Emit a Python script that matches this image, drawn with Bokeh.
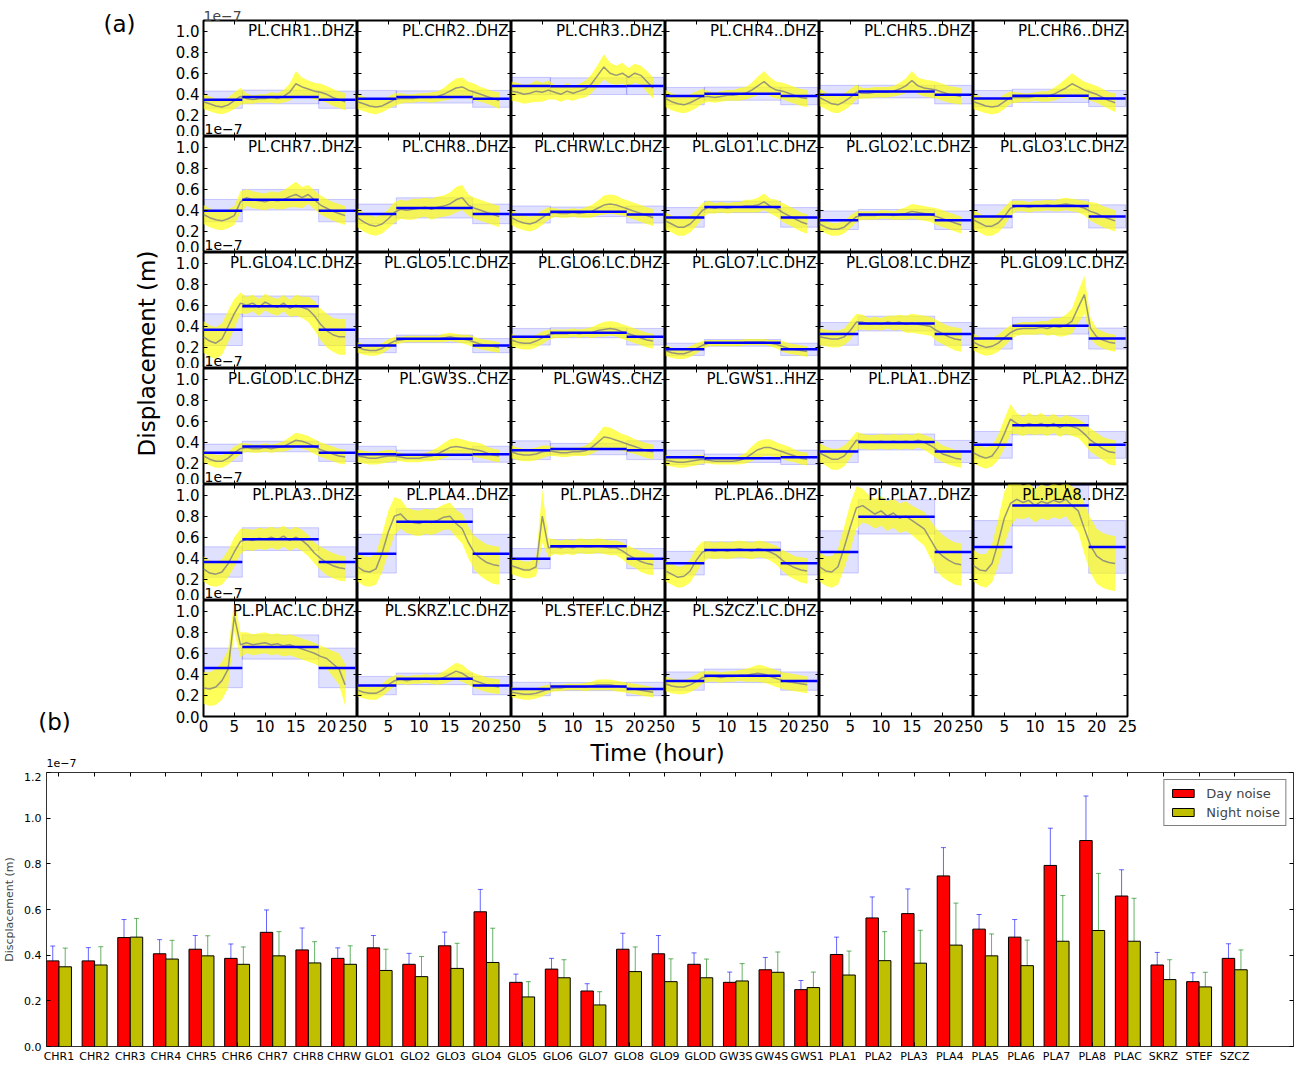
import math
from bokeh.plotting import figure
from bokeh.layouts import column, row
from bokeh.models import (Range1d, FixedTicker, LinearAxis, Label, Whisker, ColumnDataSource,
                          Legend, LegendItem, TeeHead, PrintfTickFormatter)
from bokeh.embed import file_html
from bokeh.resources import INLINE

FONT = "DejaVu Sans"

# ---------------- data ----------------
channels = ["PL.CHR1..DHZ", "PL.CHR2..DHZ", "PL.CHR3..DHZ", "PL.CHR4..DHZ", "PL.CHR5..DHZ", "PL.CHR6..DHZ",
            "PL.CHR7..DHZ", "PL.CHR8..DHZ", "PL.CHRW.LC.DHZ", "PL.GLO1.LC.DHZ", "PL.GLO2.LC.DHZ", "PL.GLO3.LC.DHZ",
            "PL.GLO4.LC.DHZ", "PL.GLO5.LC.DHZ", "PL.GLO6.LC.DHZ", "PL.GLO7.LC.DHZ", "PL.GLO8.LC.DHZ", "PL.GLO9.LC.DHZ",
            "PL.GLOD.LC.DHZ", "PL.GW3S..CHZ", "PL.GW4S..CHZ", "PL.GWS1..HHZ", "PL.PLA1..DHZ", "PL.PLA2..DHZ",
            "PL.PLA3..DHZ", "PL.PLA4..DHZ", "PL.PLA5..DHZ", "PL.PLA6..DHZ", "PL.PLA7..DHZ", "PL.PLA8..DHZ",
            "PL.PLAC.LC.DHZ", "PL.SKRZ.LC.DHZ", "PL.STEF.LC.DHZ", "PL.SZCZ.LC.DHZ"]
stations = ["CHR1", "CHR2", "CHR3", "CHR4", "CHR5", "CHR6", "CHR7", "CHR8", "CHRW", "GLO1", "GLO2", "GLO3",
            "GLO4", "GLO5", "GLO6", "GLO7", "GLO8", "GLO9", "GLOD", "GW3S", "GW4S", "GWS1", "PLA1", "PLA2",
            "PLA3", "PLA4", "PLA5", "PLA6", "PLA7", "PLA8", "PLAC", "SKRZ", "STEF", "SZCZ"]

# values in units of 1e-7 m
day_noise = [0.375, 0.375, 0.477, 0.406, 0.426, 0.386, 0.500, 0.423, 0.386, 0.432, 0.360, 0.441,
             0.590, 0.281, 0.339, 0.243, 0.426, 0.406, 0.360, 0.281, 0.336, 0.249, 0.403, 0.563,
             0.582, 0.747, 0.514, 0.479, 0.793, 0.902, 0.659, 0.357, 0.284, 0.386]
day_err = [0.065, 0.058, 0.079, 0.062, 0.060, 0.063, 0.098, 0.096, 0.046, 0.054, 0.048, 0.060,
           0.098, 0.036, 0.047, 0.032, 0.070, 0.080, 0.050, 0.045, 0.054, 0.040, 0.076, 0.092,
           0.108, 0.124, 0.064, 0.077, 0.163, 0.195, 0.115, 0.055, 0.039, 0.064]
night_noise = [0.349, 0.357, 0.479, 0.383, 0.397, 0.360, 0.397, 0.366, 0.360, 0.333, 0.306, 0.342,
               0.368, 0.217, 0.301, 0.182, 0.328, 0.284, 0.301, 0.287, 0.325, 0.258, 0.313, 0.376,
               0.365, 0.444, 0.397, 0.354, 0.461, 0.508, 0.461, 0.293, 0.261, 0.336]
night_err = [0.082, 0.080, 0.082, 0.082, 0.088, 0.076, 0.106, 0.093, 0.081, 0.093, 0.088, 0.110,
             0.150, 0.067, 0.079, 0.058, 0.108, 0.100, 0.082, 0.076, 0.089, 0.068, 0.105, 0.127,
             0.144, 0.184, 0.096, 0.112, 0.200, 0.250, 0.188, 0.087, 0.064, 0.087]

hours = [0, 1, 2, 3, 4, 5, 6, 7, 8, 9, 10, 11, 12, 13, 14, 15, 16, 17, 18, 19, 20, 21, 22, 23]
period_start = [0.0, 6.3, 18.7]
period_end = [6.3, 18.7, 24.7]

mean_CHR1 = [0.33,0.31,0.29,0.28,0.30,0.34,0.38,0.36,0.35,0.36,0.36,0.37,0.36,0.38,0.42,0.50,0.47,0.45,0.43,0.42,0.40,0.37,0.35,0.33]
spread_CHR1 = [0.07,0.07,0.07,0.07,0.07,0.08,0.08,0.05,0.04,0.04,0.04,0.05,0.05,0.06,0.08,0.12,0.09,0.08,0.08,0.08,0.08,0.08,0.08,0.08]
mean_CHR2 = [0.33,0.31,0.29,0.28,0.29,0.32,0.35,0.36,0.36,0.36,0.37,0.37,0.37,0.38,0.40,0.43,0.46,0.47,0.44,0.42,0.40,0.38,0.36,0.34]
spread_CHR2 = [0.07,0.07,0.07,0.07,0.06,0.06,0.06,0.05,0.04,0.04,0.04,0.04,0.05,0.05,0.06,0.08,0.09,0.09,0.08,0.08,0.07,0.07,0.07,0.08]
mean_CHR3 = [0.43,0.42,0.40,0.41,0.43,0.42,0.44,0.42,0.40,0.43,0.41,0.43,0.45,0.50,0.58,0.66,0.60,0.58,0.60,0.56,0.60,0.58,0.52,0.46]
spread_CHR3 = [0.09,0.09,0.09,0.09,0.10,0.09,0.09,0.07,0.07,0.08,0.07,0.07,0.08,0.09,0.10,0.12,0.10,0.09,0.10,0.09,0.09,0.09,0.10,0.10]
mean_CHR4 = [0.36,0.33,0.31,0.30,0.32,0.35,0.38,0.38,0.37,0.38,0.39,0.39,0.40,0.41,0.44,0.48,0.52,0.47,0.44,0.43,0.41,0.39,0.37,0.36]
spread_CHR4 = [0.08,0.08,0.08,0.08,0.08,0.08,0.07,0.05,0.05,0.05,0.05,0.05,0.06,0.06,0.07,0.09,0.10,0.09,0.08,0.08,0.08,0.08,0.08,0.08]
mean_CHR5 = [0.37,0.34,0.31,0.30,0.33,0.37,0.42,0.41,0.41,0.42,0.42,0.42,0.43,0.45,0.48,0.53,0.48,0.46,0.45,0.44,0.42,0.40,0.39,0.38]
spread_CHR5 = [0.08,0.08,0.08,0.08,0.08,0.08,0.07,0.05,0.05,0.05,0.05,0.05,0.05,0.06,0.07,0.09,0.08,0.08,0.08,0.08,0.08,0.08,0.08,0.08]
mean_CHR6 = [0.33,0.31,0.29,0.28,0.29,0.33,0.37,0.37,0.37,0.37,0.38,0.38,0.38,0.40,0.43,0.46,0.50,0.47,0.44,0.42,0.40,0.37,0.34,0.32]
spread_CHR6 = [0.07,0.07,0.07,0.07,0.07,0.07,0.06,0.05,0.04,0.04,0.04,0.05,0.05,0.06,0.07,0.09,0.10,0.09,0.08,0.08,0.08,0.08,0.08,0.09]
mean_CHR7 = [0.36,0.33,0.31,0.30,0.32,0.35,0.48,0.52,0.50,0.49,0.48,0.50,0.49,0.50,0.53,0.55,0.52,0.55,0.50,0.45,0.42,0.39,0.37,0.35]
spread_CHR7 = [0.09,0.09,0.09,0.09,0.09,0.09,0.10,0.08,0.08,0.08,0.08,0.08,0.08,0.09,0.10,0.12,0.10,0.09,0.09,0.09,0.09,0.09,0.09,0.09]
mean_CHR8 = [0.33,0.29,0.26,0.25,0.27,0.32,0.38,0.41,0.40,0.41,0.42,0.43,0.41,0.43,0.44,0.46,0.50,0.52,0.45,0.42,0.40,0.38,0.36,0.34]
spread_CHR8 = [0.09,0.09,0.09,0.09,0.09,0.09,0.10,0.09,0.09,0.10,0.09,0.09,0.10,0.10,0.10,0.11,0.12,0.12,0.10,0.10,0.10,0.10,0.10,0.10]
mean_CHRW = [0.33,0.30,0.28,0.27,0.29,0.33,0.37,0.38,0.37,0.37,0.38,0.37,0.38,0.39,0.42,0.45,0.46,0.45,0.43,0.41,0.39,0.37,0.35,0.33]
spread_CHRW = [0.07,0.07,0.07,0.07,0.07,0.07,0.06,0.04,0.04,0.04,0.04,0.04,0.05,0.06,0.07,0.09,0.09,0.09,0.08,0.08,0.08,0.08,0.08,0.08]
mean_GLO1 = [0.30,0.27,0.24,0.24,0.27,0.33,0.40,0.43,0.42,0.43,0.42,0.43,0.43,0.44,0.44,0.45,0.48,0.44,0.42,0.38,0.35,0.32,0.29,0.27]
spread_GLO1 = [0.08,0.08,0.08,0.08,0.08,0.08,0.07,0.06,0.05,0.05,0.05,0.05,0.05,0.06,0.06,0.07,0.08,0.07,0.08,0.09,0.09,0.09,0.09,0.09]
mean_GLO2 = [0.27,0.24,0.22,0.22,0.24,0.29,0.34,0.35,0.35,0.35,0.36,0.36,0.35,0.36,0.37,0.39,0.38,0.37,0.36,0.34,0.32,0.30,0.28,0.26]
spread_GLO2 = [0.06,0.06,0.06,0.06,0.06,0.06,0.05,0.04,0.04,0.04,0.04,0.04,0.04,0.05,0.06,0.07,0.07,0.07,0.07,0.08,0.08,0.08,0.08,0.08]
mean_GLO3 = [0.31,0.28,0.25,0.25,0.28,0.34,0.42,0.44,0.44,0.43,0.44,0.44,0.45,0.44,0.45,0.46,0.45,0.44,0.42,0.39,0.37,0.34,0.32,0.30]
spread_GLO3 = [0.09,0.09,0.09,0.09,0.09,0.09,0.07,0.05,0.05,0.05,0.05,0.05,0.05,0.05,0.06,0.06,0.06,0.06,0.07,0.09,0.10,0.10,0.10,0.10]
mean_GLO4 = [0.30,0.26,0.24,0.28,0.40,0.52,0.62,0.60,0.62,0.58,0.63,0.60,0.58,0.62,0.57,0.60,0.58,0.56,0.50,0.42,0.36,0.32,0.30,0.30]
spread_GLO4 = [0.15,0.15,0.15,0.15,0.15,0.14,0.10,0.08,0.08,0.08,0.08,0.08,0.08,0.08,0.08,0.10,0.10,0.12,0.14,0.15,0.16,0.16,0.17,0.17]
mean_GLO5 = [0.20,0.18,0.17,0.17,0.19,0.23,0.26,0.27,0.28,0.28,0.28,0.28,0.28,0.28,0.29,0.30,0.29,0.28,0.27,0.25,0.23,0.22,0.21,0.20]
spread_GLO5 = [0.05,0.05,0.05,0.05,0.05,0.05,0.04,0.03,0.03,0.03,0.03,0.03,0.03,0.03,0.04,0.04,0.04,0.04,0.05,0.05,0.05,0.05,0.05,0.05]
mean_GLO6 = [0.27,0.25,0.24,0.24,0.26,0.29,0.32,0.33,0.33,0.33,0.34,0.33,0.34,0.34,0.36,0.37,0.38,0.37,0.35,0.33,0.31,0.29,0.27,0.26]
spread_GLO6 = [0.06,0.06,0.06,0.06,0.06,0.06,0.05,0.04,0.04,0.04,0.04,0.04,0.04,0.05,0.06,0.07,0.07,0.07,0.07,0.07,0.07,0.07,0.07,0.07]
mean_GLO7 = [0.17,0.15,0.14,0.14,0.16,0.19,0.22,0.24,0.24,0.24,0.24,0.24,0.24,0.25,0.25,0.25,0.25,0.24,0.23,0.21,0.19,0.18,0.17,0.16]
spread_GLO7 = [0.05,0.05,0.05,0.05,0.05,0.05,0.04,0.03,0.03,0.03,0.03,0.03,0.03,0.03,0.03,0.03,0.03,0.03,0.04,0.05,0.05,0.05,0.05,0.05]
mean_GLO8 = [0.30,0.29,0.28,0.28,0.30,0.36,0.44,0.44,0.42,0.43,0.42,0.44,0.43,0.44,0.42,0.43,0.42,0.41,0.40,0.36,0.33,0.30,0.28,0.27]
spread_GLO8 = [0.08,0.08,0.08,0.08,0.08,0.09,0.08,0.07,0.06,0.06,0.06,0.06,0.07,0.07,0.08,0.09,0.09,0.09,0.09,0.10,0.10,0.10,0.11,0.11]
mean_GLO9 = [0.25,0.22,0.20,0.21,0.24,0.29,0.34,0.37,0.38,0.38,0.38,0.39,0.38,0.40,0.39,0.41,0.45,0.58,0.70,0.38,0.30,0.27,0.25,0.24]
spread_GLO9 = [0.08,0.08,0.08,0.08,0.08,0.08,0.07,0.06,0.06,0.06,0.06,0.06,0.07,0.08,0.09,0.10,0.12,0.15,0.18,0.10,0.08,0.08,0.08,0.08]
mean_GLOD = [0.27,0.24,0.22,0.22,0.25,0.30,0.34,0.35,0.34,0.34,0.35,0.34,0.35,0.36,0.39,0.42,0.41,0.39,0.36,0.33,0.31,0.29,0.27,0.26]
spread_GLOD = [0.06,0.06,0.06,0.06,0.06,0.06,0.05,0.04,0.04,0.04,0.04,0.04,0.04,0.05,0.06,0.07,0.07,0.07,0.07,0.07,0.07,0.07,0.07,0.07]
mean_GW3S = [0.27,0.26,0.25,0.25,0.26,0.27,0.27,0.26,0.25,0.25,0.25,0.26,0.27,0.29,0.32,0.35,0.36,0.35,0.34,0.33,0.32,0.30,0.28,0.27]
spread_GW3S = [0.06,0.06,0.06,0.06,0.06,0.06,0.05,0.04,0.04,0.04,0.04,0.04,0.05,0.06,0.07,0.08,0.08,0.08,0.07,0.07,0.07,0.06,0.06,0.06]
mean_GW4S = [0.31,0.29,0.28,0.28,0.29,0.31,0.32,0.31,0.30,0.30,0.31,0.31,0.32,0.35,0.40,0.45,0.44,0.42,0.40,0.38,0.36,0.34,0.32,0.31]
spread_GW4S = [0.06,0.06,0.06,0.06,0.06,0.06,0.05,0.04,0.04,0.04,0.04,0.04,0.05,0.06,0.08,0.10,0.10,0.09,0.08,0.08,0.07,0.07,0.07,0.07]
mean_GWS1 = [0.23,0.22,0.21,0.21,0.22,0.23,0.24,0.23,0.22,0.22,0.22,0.22,0.23,0.25,0.29,0.33,0.35,0.35,0.33,0.31,0.29,0.27,0.25,0.24]
spread_GWS1 = [0.05,0.05,0.05,0.05,0.05,0.05,0.04,0.03,0.03,0.03,0.03,0.03,0.04,0.05,0.07,0.08,0.08,0.08,0.07,0.07,0.07,0.06,0.06,0.06]
mean_PLA1 = [0.30,0.27,0.24,0.24,0.27,0.34,0.42,0.41,0.40,0.40,0.41,0.40,0.41,0.40,0.41,0.40,0.42,0.40,0.37,0.33,0.29,0.27,0.25,0.24]
spread_PLA1 = [0.09,0.09,0.10,0.10,0.10,0.09,0.08,0.07,0.07,0.07,0.07,0.07,0.07,0.07,0.07,0.07,0.07,0.07,0.08,0.08,0.08,0.08,0.08,0.08]
mean_PLA2 = [0.30,0.27,0.25,0.27,0.35,0.48,0.62,0.58,0.55,0.58,0.56,0.58,0.55,0.58,0.54,0.57,0.55,0.53,0.48,0.42,0.38,0.34,0.31,0.30]
spread_PLA2 = [0.10,0.10,0.10,0.10,0.12,0.14,0.14,0.10,0.09,0.10,0.09,0.10,0.09,0.09,0.09,0.09,0.09,0.09,0.10,0.11,0.11,0.11,0.12,0.12]
mean_PLA3 = [0.30,0.26,0.25,0.27,0.35,0.46,0.56,0.58,0.57,0.59,0.58,0.60,0.58,0.61,0.57,0.60,0.57,0.52,0.45,0.40,0.36,0.33,0.31,0.30]
spread_PLA3 = [0.12,0.12,0.12,0.12,0.13,0.14,0.12,0.10,0.10,0.10,0.10,0.10,0.10,0.10,0.10,0.10,0.10,0.10,0.10,0.11,0.12,0.12,0.12,0.12]
mean_PLA4 = [0.32,0.28,0.27,0.30,0.45,0.65,0.80,0.82,0.76,0.74,0.73,0.75,0.74,0.76,0.79,0.80,0.73,0.68,0.55,0.45,0.40,0.36,0.34,0.33]
spread_PLA4 = [0.14,0.14,0.14,0.15,0.18,0.20,0.18,0.14,0.12,0.12,0.12,0.12,0.12,0.12,0.12,0.13,0.13,0.14,0.15,0.16,0.17,0.17,0.18,0.18]
mean_PLA5 = [0.33,0.31,0.29,0.29,0.32,0.80,0.50,0.51,0.50,0.51,0.50,0.52,0.51,0.51,0.52,0.51,0.50,0.50,0.47,0.43,0.40,0.37,0.35,0.34]
spread_PLA5 = [0.08,0.08,0.08,0.08,0.09,0.25,0.09,0.07,0.07,0.07,0.07,0.07,0.07,0.07,0.07,0.07,0.07,0.07,0.08,0.09,0.09,0.10,0.10,0.10]
mean_PLA6 = [0.28,0.25,0.22,0.23,0.28,0.38,0.46,0.48,0.47,0.48,0.47,0.48,0.49,0.48,0.47,0.49,0.48,0.46,0.43,0.38,0.34,0.31,0.29,0.28]
spread_PLA6 = [0.10,0.10,0.10,0.10,0.11,0.12,0.10,0.08,0.08,0.08,0.08,0.08,0.08,0.08,0.08,0.08,0.08,0.08,0.09,0.10,0.11,0.11,0.12,0.12]
mean_PLA7 = [0.32,0.28,0.27,0.32,0.50,0.70,0.88,0.90,0.86,0.82,0.85,0.80,0.83,0.78,0.80,0.76,0.72,0.68,0.58,0.48,0.42,0.38,0.35,0.34]
spread_PLA7 = [0.14,0.14,0.15,0.17,0.20,0.22,0.20,0.16,0.14,0.14,0.14,0.14,0.14,0.14,0.14,0.14,0.15,0.16,0.18,0.20,0.20,0.20,0.20,0.20]
mean_PLA8 = [0.33,0.29,0.28,0.35,0.55,0.78,0.92,0.96,0.93,0.95,0.90,0.94,0.92,0.95,0.93,0.96,0.90,0.85,0.68,0.52,0.42,0.38,0.36,0.35]
spread_PLA8 = [0.15,0.15,0.16,0.18,0.22,0.25,0.22,0.18,0.16,0.16,0.16,0.16,0.16,0.16,0.16,0.16,0.18,0.20,0.24,0.26,0.26,0.26,0.26,0.26]
mean_PLAC = [0.27,0.26,0.28,0.34,0.45,0.95,0.68,0.70,0.68,0.69,0.70,0.68,0.69,0.67,0.68,0.66,0.64,0.62,0.60,0.57,0.55,0.50,0.45,0.30]
spread_PLAC = [0.15,0.16,0.17,0.18,0.18,0.15,0.12,0.10,0.10,0.10,0.10,0.10,0.10,0.10,0.10,0.10,0.10,0.10,0.10,0.10,0.10,0.12,0.15,0.20]
mean_SKRZ = [0.25,0.23,0.22,0.22,0.25,0.30,0.34,0.35,0.34,0.35,0.35,0.36,0.35,0.35,0.37,0.40,0.43,0.41,0.37,0.34,0.32,0.30,0.29,0.28]
spread_SKRZ = [0.06,0.06,0.06,0.06,0.06,0.06,0.05,0.04,0.04,0.04,0.04,0.04,0.04,0.05,0.06,0.07,0.08,0.08,0.07,0.07,0.07,0.07,0.07,0.07]
mean_STEF = [0.23,0.22,0.21,0.21,0.22,0.24,0.26,0.27,0.27,0.28,0.28,0.28,0.28,0.29,0.30,0.30,0.30,0.29,0.28,0.27,0.26,0.25,0.24,0.23]
spread_STEF = [0.05,0.05,0.05,0.05,0.05,0.05,0.04,0.03,0.03,0.03,0.03,0.03,0.04,0.04,0.05,0.05,0.05,0.05,0.05,0.05,0.05,0.05,0.05,0.05]
mean_SZCZ = [0.31,0.29,0.28,0.28,0.30,0.33,0.37,0.38,0.38,0.37,0.38,0.38,0.39,0.39,0.40,0.41,0.40,0.38,0.36,0.34,0.33,0.32,0.31,0.30]
spread_SZCZ = [0.07,0.07,0.07,0.07,0.07,0.07,0.06,0.05,0.05,0.05,0.05,0.05,0.05,0.06,0.07,0.08,0.08,0.08,0.08,0.08,0.08,0.08,0.08,0.08]

hourly_mean = [mean_CHR1, mean_CHR2, mean_CHR3, mean_CHR4, mean_CHR5, mean_CHR6, mean_CHR7, mean_CHR8,
               mean_CHRW, mean_GLO1, mean_GLO2, mean_GLO3, mean_GLO4, mean_GLO5, mean_GLO6, mean_GLO7,
               mean_GLO8, mean_GLO9, mean_GLOD, mean_GW3S, mean_GW4S, mean_GWS1, mean_PLA1, mean_PLA2,
               mean_PLA3, mean_PLA4, mean_PLA5, mean_PLA6, mean_PLA7, mean_PLA8, mean_PLAC, mean_SKRZ,
               mean_STEF, mean_SZCZ]
hourly_spread = [spread_CHR1, spread_CHR2, spread_CHR3, spread_CHR4, spread_CHR5, spread_CHR6, spread_CHR7,
                 spread_CHR8, spread_CHRW, spread_GLO1, spread_GLO2, spread_GLO3, spread_GLO4, spread_GLO5,
                 spread_GLO6, spread_GLO7, spread_GLO8, spread_GLO9, spread_GLOD, spread_GW3S, spread_GW4S,
                 spread_GWS1, spread_PLA1, spread_PLA2, spread_PLA3, spread_PLA4, spread_PLA5, spread_PLA6,
                 spread_PLA7, spread_PLA8, spread_PLAC, spread_SKRZ, spread_STEF, spread_SZCZ]

hour_ticks = [0, 5, 10, 15, 20, 25]
panel_y_ticks = [0.0, 0.2, 0.4, 0.6, 0.8, 1.0]
bar_y_ticks = [0.0, 0.2, 0.4, 0.6, 0.8, 1.0, 1.2]
OFFSET_TEXT = "1e\u22127"


def style_axis(ax, ticks, show_labels, fmt=None, size="15px", tick_in=4, standoff=4):
    ax.ticker = FixedTicker(ticks=ticks)
    ax.axis_line_color = None
    ax.major_tick_in = tick_in
    ax.major_tick_out = 0
    ax.minor_tick_line_color = None
    ax.major_tick_line_color = "black"
    ax.major_tick_line_width = 1
    if show_labels:
        ax.major_label_text_font = FONT
        ax.major_label_text_font_size = size
        ax.major_label_text_color = "black"
        ax.major_label_standoff = standoff
        if fmt:
            ax.formatter = PrintfTickFormatter(format=fmt)
    else:
        # tick marks only: labels are not drawn and take no room
        ax.major_label_text_color = None
        ax.major_label_standoff = 0


# ---------------- (a) grid of panels ----------------
FW, FH = 154, 116
B_LEFT, B_RIGHT, B_TOP, B_BOTTOM = 40, 12, 20, 21
panel_rows = []
for r in range(6):
    figs = []
    for c in range(6):
        k = r * 6 + c
        bl = B_LEFT if c == 0 else 0
        br_ = B_RIGHT if c == 5 else 0
        bt_ = B_TOP if r == 0 else 0
        bb = B_BOTTOM if r == 5 else 0
        p = figure(width=FW + bl + br_, height=FH + bt_ + bb,
                   x_range=Range1d(0, 25), y_range=Range1d(0, 1.1),
                   output_backend="svg", toolbar_location=None,
                   min_border=0, min_border_left=bl, min_border_right=br_,
                   min_border_top=bt_, min_border_bottom=bb,
                   outline_line_color="black", outline_line_width=2,
                   background_fill_color="white", border_fill_color="white")
        p.grid.visible = False
        style_axis(p.xaxis[0], hour_ticks, r == 5, standoff=3)
        style_axis(p.yaxis[0], panel_y_ticks, c == 0, "%.1f")
        ax_top = LinearAxis()
        style_axis(ax_top, hour_ticks, False)
        p.add_layout(ax_top, "above")
        ax_right = LinearAxis()
        style_axis(ax_right, panel_y_ticks, False)
        p.add_layout(ax_right, "right")

        if k < len(channels):
            m = hourly_mean[k]
            s = hourly_spread[k]
            levels = [night_noise[k], day_noise[k], night_noise[k]]
            errs = [night_err[k], day_err[k], night_err[k]]
            p.quad(left=period_start, right=period_end,
                   bottom=[lv - e for lv, e in zip(levels, errs)],
                   top=[lv + e for lv, e in zip(levels, errs)],
                   fill_color="blue", fill_alpha=0.12, line_color="blue", line_alpha=0.18, line_width=1)
            band = ColumnDataSource(dict(x=hours, lo=[a - b for a, b in zip(m, s)],
                                         hi=[a + b for a, b in zip(m, s)], m=m))
            p.varea(x="x", y1="lo", y2="hi", source=band, fill_color="yellow", fill_alpha=0.65)
            p.line(x="x", y="m", source=band, line_color="gray", line_alpha=0.8, line_width=1.5)
            p.segment(x0=period_start, x1=period_end, y0=levels, y1=levels,
                      line_color="blue", line_width=2.5)
            p.add_layout(Label(x=25, y=1.1, text=channels[k], text_align="right", text_baseline="top",
                               x_offset=-3, y_offset=-1, text_font=FONT, text_font_size="15px",
                               text_color="black"))
        if c == 0:
            if r == 0:
                p.title.text = OFFSET_TEXT
                p.title.align = "left"
                p.title.text_font = FONT
                p.title.text_font_size = "14px"
                p.title.text_font_style = "normal"
                p.title.standoff = 0
            if r < 5:
                p.add_layout(Label(x=0, y=0, text=OFFSET_TEXT, text_baseline="bottom", x_offset=1,
                                   y_offset=3, text_font=FONT, text_font_size="14px", text_color="black"))
        figs.append(p)
    panel_rows.append(row(*figs))

grid = column(*panel_rows)
GRID_W = FW * 6 + B_LEFT + B_RIGHT
GRID_H = FH * 6 + B_TOP + B_BOTTOM
TOP_H = 772

# left strip: shared y label, panel letters and the offset text of (b)
LEFT_W = 163
left = figure(width=LEFT_W, height=TOP_H, x_range=Range1d(0, LEFT_W), y_range=Range1d(TOP_H, 0),
              output_backend="svg", toolbar_location=None, min_border=0,
              x_axis_location=None, y_axis_location=None, outline_line_color=None)
left.grid.visible = False
left.add_layout(Label(x=119, y=23, text="(a)", text_align="center", text_baseline="middle",
                      text_font=FONT, text_font_size="23px", text_color="black"))
left.add_layout(Label(x=54, y=721, text="(b)", text_align="center", text_baseline="middle",
                      text_font=FONT, text_font_size="23px", text_color="black"))
left.add_layout(Label(x=146, y=353, text="Displacement (m)", text_align="center", text_baseline="middle",
                      angle=math.pi / 2, text_font=FONT, text_font_size="23px", text_color="black"))
left.add_layout(Label(x=46, y=762, text=OFFSET_TEXT, text_align="left", text_baseline="middle",
                      text_font=FONT, text_font_size="11px", text_color="black"))

# strip under the grid with the shared x label
STRIP_H = TOP_H - GRID_H
time_strip = figure(width=GRID_W, height=STRIP_H, x_range=Range1d(0, GRID_W), y_range=Range1d(STRIP_H, 0),
                    output_backend="svg", toolbar_location=None, min_border=0,
                    x_axis_location=None, y_axis_location=None, outline_line_color=None)
time_strip.grid.visible = False
time_strip.add_layout(Label(x=494, y=15, text="Time (hour)", text_align="center", text_baseline="middle",
                            text_font=FONT, text_font_size="23px", text_color="black"))

# ---------------- (b) bar chart ----------------
idx = list(range(len(stations)))
x_day = [i + 0.175 for i in idx]
x_night = [i + 0.525 for i in idx]
x_tick = [i + 0.35 for i in idx]

bars = ColumnDataSource(dict(xd=x_day, xn=x_night, day=day_noise, night=night_noise,
                             d_up=[v + e for v, e in zip(day_noise, day_err)],
                             d_lo=[v - e for v, e in zip(day_noise, day_err)],
                             n_up=[v + e for v, e in zip(night_noise, night_err)],
                             n_lo=[v - e for v, e in zip(night_noise, night_err)]))

b = figure(width=1303, height=293, x_range=Range1d(0, 35), y_range=Range1d(0, 1.2),
           output_backend="svg", toolbar_location=None, min_border=0,
           min_border_left=46, min_border_right=10, min_border_top=0, min_border_bottom=17,
           outline_line_color="#333333", outline_line_width=1,
           background_fill_color="white", border_fill_color="white")
b.grid.visible = False
r_day = b.vbar(x="xd", width=0.35, top="day", source=bars, fill_color="#ff0000",
               line_color="black", line_width=1)
r_night = b.vbar(x="xn", width=0.35, top="night", source=bars, fill_color="#bfbf00",
                 line_color="black", line_width=1)
b.add_layout(Whisker(source=bars, base="xd", upper="d_up", lower="d_lo", dimension="height",
                     line_color="blue", line_alpha=0.6, line_width=1,
                     upper_head=TeeHead(size=5, line_color="blue", line_alpha=0.6),
                     lower_head=TeeHead(size=5, line_color="blue", line_alpha=0.6)))
b.add_layout(Whisker(source=bars, base="xn", upper="n_up", lower="n_lo", dimension="height",
                     line_color="green", line_alpha=0.6, line_width=1,
                     upper_head=TeeHead(size=5, line_color="green", line_alpha=0.6),
                     lower_head=TeeHead(size=5, line_color="green", line_alpha=0.6)))

style_axis(b.xaxis[0], x_tick, True, size="11px", standoff=3)
b.xaxis[0].major_label_overrides = {t: name for t, name in zip(x_tick, stations)}
style_axis(b.yaxis[0], bar_y_ticks, True, "%.1f", size="11px", standoff=5)
b.yaxis[0].axis_label = "Discplacement (m)"
b.yaxis[0].axis_label_text_font = FONT
b.yaxis[0].axis_label_text_font_size = "11px"
b.yaxis[0].axis_label_text_font_style = "normal"
b.yaxis[0].axis_label_standoff = 5
bt = LinearAxis()
style_axis(bt, x_tick, False)
b.add_layout(bt, "above")
bra = LinearAxis()
style_axis(bra, bar_y_ticks, False)
b.add_layout(bra, "right")

legend = Legend(items=[LegendItem(label="Day noise", renderers=[r_day]),
                       LegendItem(label="Night noise", renderers=[r_night])],
                location="top_right", margin=7, padding=5, spacing=3,
                glyph_width=27, glyph_height=10, label_standoff=10, label_height=16,
                label_text_font=FONT, label_text_font_size="13px",
                border_line_color="black", border_line_width=1, background_fill_alpha=1.0)
b.add_layout(legend)

layout = column(row(left, column(grid, time_strip)), b)

with open("out.html", "w") as f:
    f.write(file_html(layout, INLINE))
